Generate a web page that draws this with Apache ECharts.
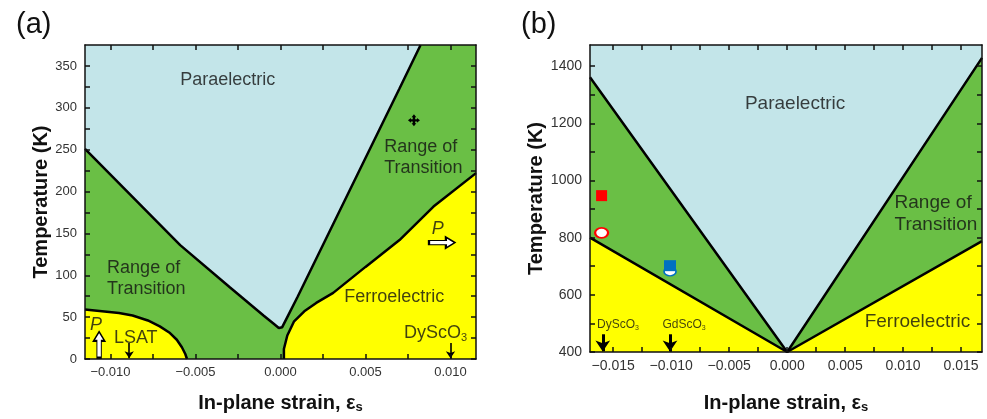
<!DOCTYPE html>
<html>
<head>
<meta charset="utf-8">
<script src="https://cdn.jsdelivr.net/npm/echarts@6/dist/echarts.min.js"></script>
<style>
html, body { margin: 0; padding: 0; background: #fff; }
#main { width: 987px; height: 419px; }
</style>
</head>
<body>
<div id="main"></div>
<script>
// ---------- panel (a) ----------
var strainRangeA = [-0.0115, 0.0115];
var tempRangeA = [0, 375];
// paraelectric / transition boundary (V shape)
var paraBoundA = [[-0.0115, 251], [-0.0059, 136], [-0.0030, 86], [-0.0010, 52], [-0.0004, 42], [-0.0001, 37],
	[0.0001, 38], [0.0004, 50], [0.0010, 74], [0.0030, 157], [0.0050, 240], [0.0070, 323], [0.00824, 375]];
// transition / ferroelectric boundary (right)
var ferroBoundA = [[0.0002, 0], [0.0002, 12], [0.0004, 28], [0.0008, 45], [0.0014, 57], [0.0021, 67], [0.0031, 79],
	[0.0050, 110], [0.0070, 142], [0.0090, 182], [0.0115, 222]];
// LSAT side ferroelectric boundary (left)
var lsatBoundA = [[-0.0115, 59], [-0.0095, 55], [-0.0087, 52], [-0.0078, 46], [-0.0071, 39], [-0.0065, 31],
	[-0.0061, 23], [-0.0058, 14], [-0.0056, 6], [-0.0055, 0]];
var xLabelsA = [-0.010, -0.005, 0, 0.005, 0.010];
var xTicksA = [-0.010, -0.0075, -0.005, -0.0025, 0, 0.0025, 0.005, 0.0075, 0.010];
var yLabelsA = [0, 50, 100, 150, 200, 250, 300, 350];
var yTicksA = [0, 25, 50, 75, 100, 125, 150, 175, 200, 225, 250, 275, 300, 325, 350];
var textsA = [
	[-0.0059, 333, 'Paraelectric'],
	[-0.0102, 96, 'Range of\nTransition'],
	[0.0061, 241, 'Range of\nTransition'],
	[0.00375, 74, 'Ferroelectric'],
	[-0.0098, 25, 'LSAT'],
	[0.00726, 31, 'DyScO{sub|3}']
];
var polTextsA = [[0.0089, 155, 'P'], [-0.0112, 41, 'P']];
var substrateArrowsA = [[-0.0089, 19, 1], [0.0100, 19, 1]];
var polArrowRightA = [[0.0095, 139]];
var polArrowUpA = [[-0.01067, 17]];
var crossMarkA = [[0.00785, 285]];

// ---------- panel (b) ----------
var strainRangeB = [-0.0170, 0.0168];
var tempRangeB = [400, 1474];
var paraBoundB = [[-0.0170, 1361], [0, 400], [0.0168, 1429]];
var ferroBoundB = [[-0.0170, 800], [0, 400], [0.0168, 788]];
var xLabelsB = [-0.015, -0.010, -0.005, 0, 0.005, 0.010, 0.015];
var xTicksB = [-0.015, -0.0125, -0.010, -0.0075, -0.005, -0.0025, 0, 0.0025, 0.005, 0.0075, 0.010, 0.0125, 0.015];
var yLabelsB = [400, 600, 800, 1000, 1200, 1400];
var yTicksB = [400, 500, 600, 700, 800, 900, 1000, 1100, 1200, 1300, 1400];
var textsB = [
	[-0.00364, 1270, 'Paraelectric'],
	[0.00926, 882, 'Range of\nTransition'],
	[0.00668, 505, 'Ferroelectric']
];
var substrateTextsB = [[-0.01639, 495, 'DyScO{sub|3}'], [-0.01075, 495, 'GdScO{sub|3}']];
var substrateArrowsB = [[-0.0159, 462, 402], [-0.0101, 462, 402]];
var redSquareB = [[-0.0160, 947]];
var redCircleB = [[-0.0160, 817]];
var blueSquareB = [[-0.0101, 702]];
var blueCircleB = [[-0.0101, 682]];

var COLOR_PARA = '#c3e5e9';
var COLOR_TRANS = '#6abf45';
var COLOR_FERRO = '#ffff00';
var FONT = 'Liberation Sans, Arial, sans-serif';

var phaseChart = {
	fmtStrain: function (v) {
		return (v < 0 ? '\u2212' : '') + Math.abs(v).toFixed(3);
	},
	fmtTemp: function (v) {
		return String(v);
	},
	xAxis: function (gridIndex, range, labels, ticks, pos, fontSize, nameGap) {
		var main = pos == 'bottom';
		return {
			type: 'value', gridIndex: gridIndex, position: pos, z: 10,
			min: range[0], max: range[1],
			name: main ? 'In-plane strain, \u03b5{s|s}' : '',
			nameLocation: 'middle', nameGap: nameGap,
			nameTextStyle: {
				fontFamily: FONT, fontSize: 20, fontWeight: 'bold', color: '#111',
				rich: { s: { fontFamily: FONT, fontSize: 13, fontWeight: 'bold', color: '#111', padding: [9, 0, 0, 0] } }
			},
			axisLine: { show: true, onZero: false, lineStyle: { color: '#111', width: 1.5 } },
			axisTick: { show: true, inside: true, length: 5, customValues: ticks, lineStyle: { color: '#111', width: 1.5 } },
			axisLabel: { show: main, customValues: labels, formatter: phaseChart.fmtStrain, fontFamily: FONT, fontSize: fontSize, color: '#333', margin: 7 },
			splitLine: { show: false }
		};
	},
	yAxis: function (gridIndex, range, labels, ticks, pos, fontSize, nameGap) {
		var main = pos == 'left';
		return {
			type: 'value', gridIndex: gridIndex, position: pos, z: 10,
			min: range[0], max: range[1],
			name: main ? 'Temperature (K)' : '',
			nameLocation: 'middle', nameGap: nameGap,
			nameTextStyle: { fontFamily: FONT, fontSize: 20, fontWeight: 'bold', color: '#111' },
			axisLine: { show: true, onZero: false, lineStyle: { color: '#111', width: 1.5 } },
			axisTick: { show: true, inside: true, length: 5, customValues: ticks, lineStyle: { color: '#111', width: 1.5 } },
			axisLabel: { show: main, customValues: labels, formatter: phaseChart.fmtTemp, fontFamily: FONT, fontSize: fontSize, color: '#333', margin: 8 },
			splitLine: { show: false }
		};
	},
	boundary: function (axisIdx, data, fillColor, origin) {
		return {
			type: 'line', xAxisIndex: axisIdx, yAxisIndex: axisIdx, data: data,
			symbol: 'none', smooth: false, silent: true, clip: true,
			lineStyle: { color: '#000', width: 2.5 },
			areaStyle: { color: fillColor, opacity: 1, origin: origin }
		};
	},
	texts: function (axisIdx, list, fontSize, italic) {
		return {
			type: 'scatter', xAxisIndex: axisIdx, yAxisIndex: axisIdx, silent: true,
			symbolSize: 0, z: 5,
			data: list.map(function (t) { return { value: [t[0], t[1]], name: t[2] }; }),
			label: {
				show: true, position: [0, 0], align: 'left', verticalAlign: 'middle',
				formatter: function (p) { return p.name; },
				fontFamily: FONT, fontSize: fontSize, color: '#111', lineHeight: fontSize + 3,
				fontStyle: italic ? 'italic' : 'normal',
				rich: { sub: { fontFamily: FONT, fontSize: Math.round(fontSize * 0.6), color: '#111', padding: [Math.round(fontSize * 0.5), 0, 0, 0] } }
			}
		};
	},
	arrows: function (axisIdx, list, width, headSize) {
		return {
			type: 'line', xAxisIndex: axisIdx, yAxisIndex: axisIdx, data: [], silent: true,
			markLine: {
				silent: true, animation: false, symbol: ['none', 'arrow'], symbolSize: headSize,
				label: { show: false },
				lineStyle: { color: '#000', width: width, type: 'solid' },
				data: list.map(function (a) { return [{ coord: [a[0], a[1]] }, { coord: [a[0], a[2]] }]; })
			}
		};
	},
	marker: function (axisIdx, data, symbol, size, fill, border, z, borderWidth) {
		return {
			type: 'scatter', xAxisIndex: axisIdx, yAxisIndex: axisIdx, silent: true, z: z || 6,
			data: data, symbol: symbol, symbolSize: size,
			itemStyle: { color: fill, borderColor: border, borderWidth: border ? (borderWidth || 1.5) : 0, opacity: 1 }
		};
	},
	show: function () {
		var myChart = echarts.init(document.getElementById('main'), null, { renderer: 'canvas' });
		var option = {
			animation: false,
			backgroundColor: '#fff',
			graphic: [
				{ type: 'text', left: 16, top: 10, style: { text: '(a)', font: '29px ' + FONT, fill: '#111' } },
				{ type: 'text', left: 521, top: 10, style: { text: '(b)', font: '29px ' + FONT, fill: '#111' } }
			],
			grid: [
				{ left: 85, top: 45, width: 391, height: 314, show: true, backgroundColor: COLOR_TRANS, borderWidth: 0 },
				{ left: 590, top: 45, width: 392, height: 316, show: true, backgroundColor: COLOR_TRANS, borderWidth: 0 }
			],
			xAxis: [
				phaseChart.xAxis(0, strainRangeA, xLabelsA, xTicksA, 'bottom', 13, 33),
				phaseChart.xAxis(0, strainRangeA, xLabelsA, xTicksA, 'top', 13, 0),
				phaseChart.xAxis(1, strainRangeB, xLabelsB, xTicksB, 'bottom', 14, 40),
				phaseChart.xAxis(1, strainRangeB, xLabelsB, xTicksB, 'top', 14, 0)
			],
			yAxis: [
				phaseChart.yAxis(0, tempRangeA, yLabelsA, yTicksA, 'left', 13, 29),
				phaseChart.yAxis(0, tempRangeA, yLabelsA, yTicksA, 'right', 13, 0),
				phaseChart.yAxis(1, tempRangeB, yLabelsB, yTicksB, 'left', 14, 36),
				phaseChart.yAxis(1, tempRangeB, yLabelsB, yTicksB, 'right', 14, 0)
			],
			series: [
				// panel (a)
				phaseChart.boundary(0, paraBoundA, COLOR_PARA, 'end'),
				phaseChart.boundary(0, ferroBoundA, COLOR_FERRO, 'start'),
				phaseChart.boundary(0, lsatBoundA, COLOR_FERRO, 'start'),
				phaseChart.texts(0, textsA, 18, false),
				phaseChart.texts(0, polTextsA, 18, true),
				phaseChart.arrows(0, substrateArrowsA, 1.6, 7),
				phaseChart.marker(0, polArrowRightA, 'path://M0,3 L13,3 L13,0 L20,5 L13,10 L13,7 L0,7 Z', [26, 11], '#fff', '#000'),
				phaseChart.marker(0, polArrowUpA, 'path://M3,20 L3,7 L0,7 L5,0 L10,7 L7,7 L7,20 Z', [11, 26], '#fff', '#000'),
				phaseChart.marker(0, crossMarkA, 'path://M10,0 L14,5 L12,5 L12,8 L15,8 L15,6 L20,10 L15,14 L15,12 L12,12 L12,15 L14,15 L10,20 L6,15 L8,15 L8,12 L5,12 L5,14 L0,10 L5,6 L5,8 L8,8 L8,5 L6,5 Z', 12, '#000'),
				// panel (b)
				phaseChart.boundary(2, paraBoundB, COLOR_PARA, 'end'),
				phaseChart.boundary(2, ferroBoundB, COLOR_FERRO, 'start'),
				phaseChart.texts(2, textsB, 19, false),
				phaseChart.texts(2, substrateTextsB, 12, false),
				phaseChart.arrows(2, substrateArrowsB, 3, 11),
				phaseChart.marker(2, redCircleB, 'circle', [13, 10], '#fff', '#ff0000', 6, 2),
				phaseChart.marker(2, blueCircleB, 'circle', [12, 9], '#fff', '#0070c0', 6, 1.5),
				phaseChart.marker(2, redSquareB, 'rect', 11, '#ff0000', null, 7),
				phaseChart.marker(2, blueSquareB, 'rect', [12, 11], '#0070c0', null, 7)
			]
		};
		myChart.setOption(option);
	}
};

phaseChart.show();
</script>
</body>
</html>
